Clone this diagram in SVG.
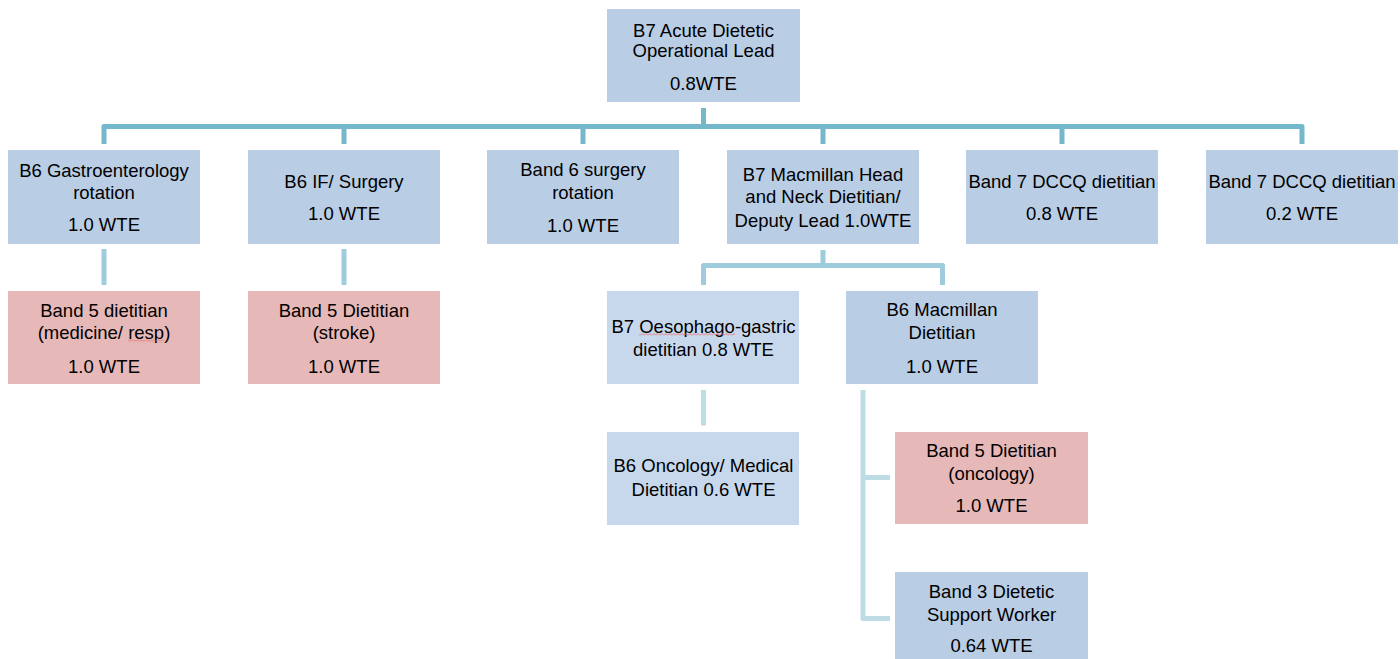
<svg xmlns="http://www.w3.org/2000/svg" width="1400" height="659" viewBox="0 0 1400 659">
<defs>
<pattern id="squig" x="0" y="0" width="4" height="3" patternUnits="userSpaceOnUse">
<path d="M0,2.5 L2,0.5 L4,2.5" fill="none" stroke="#E46C6C" stroke-width="0.9"/>
</pattern>
</defs>
<style>
.box{fill:#B9CDE5;}
.pink{fill:#E6B8B7;}
.light{fill:#C8D8EC;}
text{font-family:"Liberation Sans",Arial,sans-serif;font-size:18.5px;fill:#000;text-anchor:middle;}
.c1{fill:none;stroke:#75B8CC;stroke-width:5;stroke-linejoin:round;}
.c2{fill:none;stroke:#9FCCDC;stroke-width:5;stroke-linejoin:round;}
.c3{fill:none;stroke:#BDDCE5;stroke-width:5;stroke-linejoin:round;}
</style>
<rect width="1400" height="659" fill="#FFFFFF"/>
<g id="connectors">
<path class="c1" d="M703.5,108 V126.5 M104,144 V126.5 H1302 V144 M344,126.5 V144 M583,126.5 V144 M823,126.5 V144 M1062,126.5 V144"/>
<path class="c2" d="M104,249 V285 M344,249 V285"/>
<path class="c2" d="M823,250 V265.5 M703.5,285 V265.5 H942.5 V285"/>
<path class="c3" d="M703.5,390 V425.5 M863,390 V618.5 H890 M863,477.5 H890"/>
</g>
<g id="n_lead">
<rect class="box" x="607" y="9" width="193" height="93"/>
<text x="703.5" y="37">B7 Acute Dietetic</text>
<text x="703.5" y="57">Operational Lead</text>
<text x="703.5" y="90">0.8WTE</text>
</g>
<g id="n_gastro">
<rect class="box" x="8" y="150" width="192" height="94"/>
<text x="104" y="177">B6 Gastroenterology</text>
<text x="104" y="199">rotation</text>
<text x="104" y="231">1.0 WTE</text>
</g>
<g id="n_if">
<rect class="box" x="248" y="150" width="192" height="94"/>
<text x="344" y="188">B6 IF/ Surgery</text>
<text x="344" y="220">1.0 WTE</text>
</g>
<g id="n_surgery">
<rect class="box" x="487" y="150" width="192" height="94"/>
<text x="583" y="176">Band 6 surgery</text>
<text x="583" y="199">rotation</text>
<text x="583" y="231.5">1.0 WTE</text>
</g>
<g id="n_macmillan_head">
<rect class="box" x="727" y="150" width="192" height="94"/>
<text x="823" y="180.5">B7 Macmillan Head</text>
<text x="823" y="203">and Neck Dietitian/</text>
<text x="823" y="227">Deputy Lead 1.0WTE</text>
</g>
<g id="n_dccq1">
<rect class="box" x="966" y="150" width="192" height="94"/>
<text x="1062" y="188">Band 7 DCCQ dietitian</text>
<text x="1062" y="219.5">0.8 WTE</text>
</g>
<g id="n_dccq2">
<rect class="box" x="1206" y="150" width="192" height="94"/>
<text x="1302" y="188">Band 7 DCCQ dietitian</text>
<text x="1302" y="219.5">0.2 WTE</text>
</g>
<g id="n_b5_med">
<rect class="pink" x="8" y="291" width="192" height="93"/>
<text x="104" y="316.7">Band 5 dietitian</text>
<text x="104" y="339">(medicine/ resp)</text>
<text x="104" y="373">1.0 WTE</text>
<rect x="128" y="339.5" width="36" height="3" fill="url(#squig)"/>
</g>
<g id="n_b5_stroke">
<rect class="pink" x="248" y="291" width="192" height="93"/>
<text x="344" y="316.7">Band 5 Dietitian</text>
<text x="344" y="339">(stroke)</text>
<text x="344" y="373">1.0 WTE</text>
</g>
<g id="n_og">
<rect class="light" x="607" y="291" width="192" height="93"/>
<text x="703.5" y="332.7">B7 Oesophago-gastric</text>
<text x="703.5" y="356">dietitian 0.8 WTE</text>
<rect x="639" y="333" width="96" height="3" fill="url(#squig)"/>
</g>
<g id="n_b6_macmillan">
<rect class="box" x="846" y="291" width="192" height="93"/>
<text x="942" y="316">B6 Macmillan</text>
<text x="942" y="339.3">Dietitian</text>
<text x="942" y="372.7">1.0 WTE</text>
</g>
<g id="n_oncology_med">
<rect class="light" x="607" y="432" width="192" height="93"/>
<text x="703.5" y="472">B6 Oncology/ Medical</text>
<text x="703.5" y="496">Dietitian 0.6 WTE</text>
</g>
<g id="n_b5_onc">
<rect class="pink" x="895" y="432" width="193" height="92"/>
<text x="991.5" y="456.7">Band 5 Dietitian</text>
<text x="991.5" y="480">(oncology)</text>
<text x="991.5" y="511.7">1.0 WTE</text>
</g>
<g id="n_b3">
<rect class="box" x="895" y="572" width="193" height="93"/>
<text x="991.5" y="598">Band 3 Dietetic</text>
<text x="991.5" y="621">Support Worker</text>
<text x="991.5" y="651.7">0.64 WTE</text>
</g>
</svg>
